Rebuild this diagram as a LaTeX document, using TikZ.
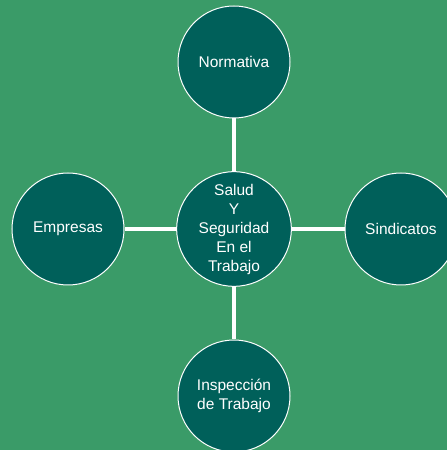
\documentclass[tikz,border=0pt]{standalone}
\usepackage{fontspec}
\setmainfont{Liberation Sans}
\usepackage{tikz}
\definecolor{fondo}{RGB}{58,155,104}
\definecolor{circulo}{RGB}{0,96,90}
\tikzstyle{every node}=[font=\fontsize{15.5}{19}\selectfont]
\tikzstyle{tema}=[circle, draw=white, line width=1pt, fill=circulo, text=white, minimum size=112pt, inner sep=0pt, align=center]

\begin{document}
\begin{tikzpicture}[x=1pt, y=1pt]
            \clip (0, 0) rectangle (447, 450);
            \fill [fondo] (0, 0) rectangle (447, 450);

            \node [tema] (salud) at (234, 221) {Salud\\Y\\Seguridad\\En el\\Trabajo};
            \node [tema] (normativa) at (234, 388) {Normativa};
            \node [tema] (empresas) at (68, 221) {Empresas};
            \node [tema] (sindicatos) at (401, 221) {Sindicatos};
            \node [tema] (inspeccion) at (234, 54) {Inspección\\de Trabajo};

            \draw [white, line width=4pt] (salud) -- (normativa);
            \draw [white, line width=4pt] (salud) -- (empresas);
            \draw [white, line width=4pt] (salud) -- (sindicatos);
            \draw [white, line width=4pt] (salud) -- (inspeccion);
        \end{tikzpicture}
\end{document}
